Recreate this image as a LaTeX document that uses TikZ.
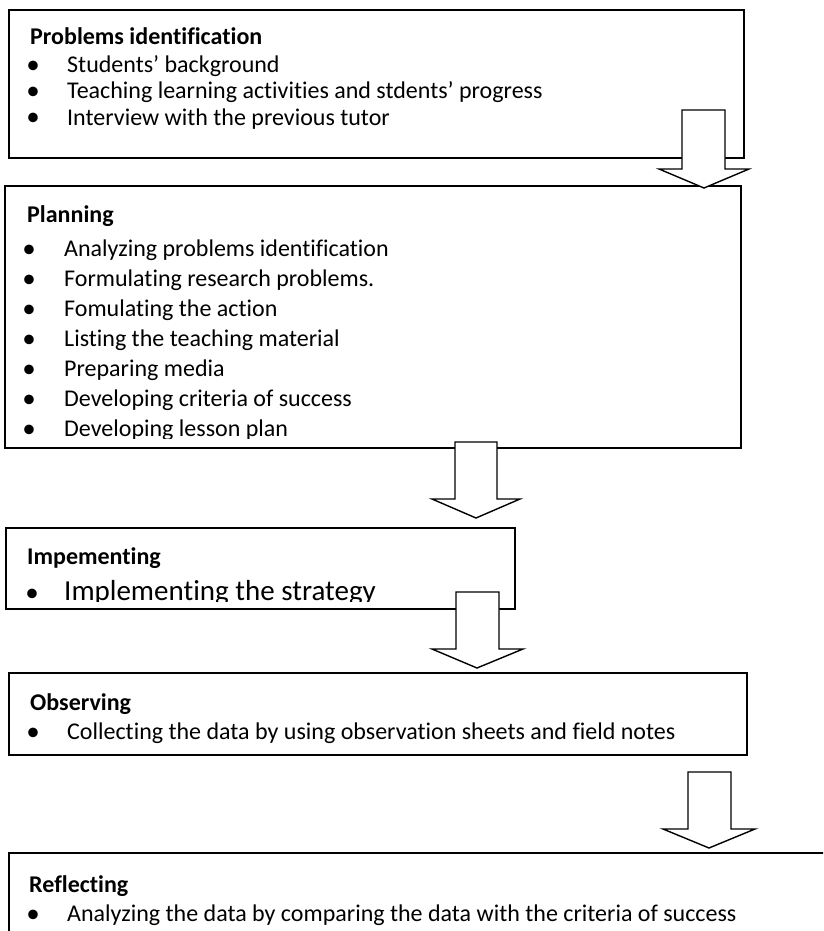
\documentclass[tikz,border=0pt]{standalone}
\usepackage{fontspec}
\setmainfont[Ligatures={NoCommon}]{Carlito}
\begin{document}
\begin{tikzpicture}[x=1pt,y=-1pt,
  box/.style={draw=black, line width=1.4pt, inner sep=0pt, outer sep=0pt, anchor=north west},
  blockarrow/.style={draw=black, fill=white, line width=1.4pt, line join=miter},
  ttl/.style={anchor=base west, inner sep=0pt, font=\fontsize{24}{29}\selectfont\bfseries},
  itm/.style={anchor=base west, inner sep=0pt, font=\fontsize{24}{29}\selectfont},
  bigitm/.style={anchor=base west, inner sep=0pt, font=\fontsize{29}{35}\selectfont},
  dot/.style={anchor=base, inner sep=0pt, font=\fontsize{27}{30}\selectfont}]
\useasboundingbox (0,0) rectangle (823,931);
\clip (0,0) rectangle (823,931);
\fill[white] (0,0) rectangle (823,931);

% ---------- Box 1
\node[box, minimum width=735pt, minimum height=148pt] (b1) at (9,10) {};
\node[ttl] (t1) at (30,45) {Problems identification};
\node[dot] (d11) at (33,74) {•};
\node[itm] (i11) at (67,73) {Students’ background};
\node[dot] (d12) at (33,100) {•};
\node[itm] (i12) at (67,99) {Teaching learning activities and stdents’ progress};
\node[dot] (d13) at (33,126) {•};
\node[itm] (i13) at (67,125) {Interview with the previous tutor};

% ---------- Box 2
\node[box, minimum width=736pt, minimum height=262pt] (b2) at (5,186) {};
\node[ttl] (t2) at (27,222) {Planning};
\begin{scope}
\clip (0,186) rectangle (741,438);
\node[dot] (d21) at (29,257) {•};
\node[itm] (i21) at (64,256) {Analyzing problems identification};
\node[dot] (d22) at (29,287) {•};
\node[itm] (i22) at (64,286) {Formulating research problems.};
\node[dot] (d23) at (29,317) {•};
\node[itm] (i23) at (64,316) {Fomulating the action};
\node[dot] (d24) at (29,347) {•};
\node[itm] (i24) at (64,346) {Listing the teaching material};
\node[dot] (d25) at (29,377) {•};
\node[itm] (i25) at (64,376) {Preparing media};
\node[dot] (d26) at (29,407) {•};
\node[itm] (i26) at (64,406) {Developing criteria of success};
\node[dot] (d27) at (29,437) {•};
\node[itm] (i27) at (64,436) {Developing lesson plan};
\end{scope}

% ---------- Box 3
\node[box, minimum width=509pt, minimum height=81pt] (b3) at (6,528) {};
\node[ttl] (t3) at (27,564) {Impementing};
\begin{scope}
\clip (0,528) rectangle (515,601);
\node[dot] (d31) at (32,601) {•};
\node[bigitm] (i31) at (64,600) {Implementing the strategy};
\end{scope}

% ---------- Box 4
\node[box, minimum width=738pt, minimum height=82pt] (b4) at (9,673) {};
\node[ttl] (t4) at (30,710) {Observing};
\node[dot] (d41) at (33,740) {•};
\node[itm] (i41) at (67,739) {Collecting the data by using observation sheets and field notes};

% ---------- Box 5
\node[box, minimum width=830pt, minimum height=120pt] (b5) at (9,853) {};
\node[ttl] (t5) at (29,892) {Reflecting};
\node[dot] (d51) at (33,922) {•};
\node[itm] (i51) at (67,921) {Analyzing the data by comparing the data with the criteria of success};

% ---------- Block arrows
\draw[blockarrow] (682,110) -- (725,110) -- (725,169) -- (749,169) -- (704,188) -- (659,169) -- (682,169) -- cycle;
\draw[blockarrow] (455,442) -- (497,442) -- (497,499) -- (520,499) -- (476,518) -- (432,499) -- (455,499) -- cycle;
\draw[blockarrow] (456,592) -- (499,592) -- (499,649) -- (523,649) -- (477,668) -- (432,649) -- (456,649) -- cycle;
\draw[blockarrow] (688,772) -- (731,772) -- (731,829) -- (755,829) -- (709,848) -- (663,829) -- (688,829) -- cycle;
\end{tikzpicture}
\end{document}
